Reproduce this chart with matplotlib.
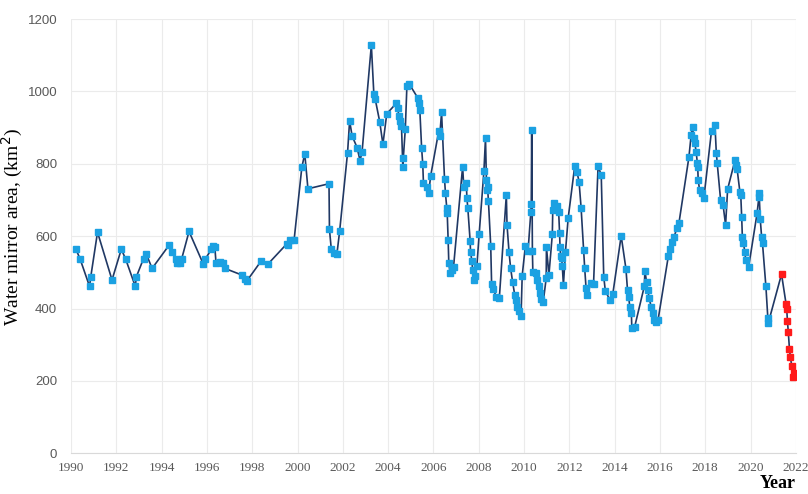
import matplotlib
matplotlib.use("Agg")
import matplotlib.pyplot as plt

blue_years = [1990.21, 1990.40, 1990.82, 1990.87, 1991.17, 1991.81, 1992.22, 1992.41, 1992.84, 1992.88,
              1993.20, 1993.32, 1993.58, 1994.34, 1994.48, 1994.62, 1994.67, 1994.81, 1994.88, 1995.21,
              1995.84, 1995.92, 1996.20, 1996.27, 1996.35, 1996.40, 1996.58, 1996.73, 1996.79, 1997.57,
              1997.66, 1997.76, 1998.39, 1998.71, 1999.53, 1999.60, 1999.69, 1999.85, 2000.19, 2000.32,
              2000.46, 2001.39, 2001.41, 2001.49, 2001.59, 2001.74, 2001.86, 2002.21, 2002.30, 2002.41,
              2002.63, 2002.76, 2002.85, 2003.26, 2003.37, 2003.43, 2003.63, 2003.77, 2003.94, 2004.37,
              2004.43, 2004.47, 2004.52, 2004.59, 2004.65, 2004.67, 2004.76, 2004.83, 2004.94, 2005.30,
              2005.35, 2005.40, 2005.48, 2005.53, 2005.56, 2005.72, 2005.79, 2005.88, 2006.24, 2006.28,
              2006.36, 2006.49, 2006.53, 2006.59, 2006.61, 2006.65, 2006.68, 2006.74, 2006.81, 2006.89,
              2007.29, 2007.34, 2007.45, 2007.48, 2007.52, 2007.62, 2007.64, 2007.70, 2007.73, 2007.77,
              2007.85, 2007.92, 2008.02, 2008.23, 2008.30, 2008.34, 2008.37, 2008.39, 2008.43, 2008.53,
              2008.57, 2008.63, 2008.78, 2008.91, 2009.22, 2009.25, 2009.34, 2009.41, 2009.50, 2009.59,
              2009.65, 2009.71, 2009.80, 2009.87, 2009.92, 2010.06, 2010.18, 2010.30, 2010.32, 2010.34,
              2010.37, 2010.39, 2010.51, 2010.58, 2010.64, 2010.70, 2010.77, 2010.85, 2010.98, 2010.99,
              2011.10, 2011.25, 2011.27, 2011.34, 2011.45, 2011.53, 2011.57, 2011.59, 2011.62, 2011.66,
              2011.69, 2011.74, 2011.83, 2011.95, 2012.24, 2012.34, 2012.43, 2012.52, 2012.63, 2012.68,
              2012.74, 2012.80, 2012.95, 2013.07, 2013.27, 2013.41, 2013.52, 2013.59, 2013.79, 2013.92,
              2014.29, 2014.50, 2014.57, 2014.62, 2014.67, 2014.74, 2014.76, 2014.88, 2015.31, 2015.34,
              2015.41, 2015.46, 2015.53, 2015.61, 2015.68, 2015.76, 2015.83, 2015.92, 2016.37, 2016.43,
              2016.54, 2016.63, 2016.75, 2016.84, 2017.28, 2017.38, 2017.44, 2017.49, 2017.54, 2017.60,
              2017.65, 2017.67, 2017.69, 2017.75, 2017.87, 2017.94, 2018.28, 2018.43, 2018.49, 2018.53,
              2018.68, 2018.79, 2018.90, 2018.99, 2019.32, 2019.37, 2019.41, 2019.53, 2019.57, 2019.61,
              2019.64, 2019.69, 2019.75, 2019.79, 2019.92, 2020.29, 2020.37, 2020.38, 2020.43, 2020.49,
              2020.53, 2020.68, 2020.77, 2020.78]
blue_area = [565, 537, 461, 487, 611, 479, 564, 537, 461, 487,
             538, 551, 511, 576, 556, 537, 525, 525, 536, 613,
             523, 536, 564, 574, 570, 527, 530, 527, 511, 492,
             481, 476, 531, 524, 579, 576, 590, 590, 790, 828,
             731, 745, 619, 565, 553, 551, 614, 831, 919, 877,
             845, 809, 833, 1128, 993, 979, 916, 854, 938, 968,
             955, 931, 917, 905, 792, 815, 897, 1016, 1020, 983,
             968, 949, 843, 799, 747, 737, 719, 767, 892, 877,
             942, 759, 720, 677, 664, 590, 525, 498, 507, 516,
             792, 737, 748, 705, 677, 588, 555, 532, 507, 479,
             490, 518, 606, 780, 871, 756, 728, 735, 696, 574,
             467, 454, 433, 429, 714, 631, 555, 511, 472, 438,
             424, 405, 394, 380, 491, 573, 560, 666, 689, 894,
             560, 502, 498, 479, 461, 444, 426, 419, 484, 571,
             493, 605, 673, 693, 683, 668, 609, 571, 544, 539,
             518, 465, 557, 650, 794, 777, 751, 679, 562, 511,
             456, 438, 470, 468, 794, 769, 488, 449, 424, 440,
             601, 510, 451, 433, 405, 389, 346, 348, 461, 505,
             474, 450, 429, 405, 387, 369, 364, 369, 544, 565,
             585, 599, 622, 636, 818, 880, 903, 871, 857, 834,
             803, 791, 756, 728, 719, 705, 892, 908, 831, 802,
             700, 686, 631, 730, 811, 797, 785, 723, 714, 654,
             599, 580, 557, 534, 516, 663, 708, 720, 647, 599,
             580, 461, 373, 359]

red_years = [2021.37, 2021.57, 2021.60, 2021.63, 2021.67, 2021.72, 2021.76, 2021.82, 2021.86, 2021.90]
red_area = [495, 413, 398, 366, 334, 288, 267, 241, 212, 221]

x_ticks = list(range(1990, 2023, 2))
y_ticks = list(range(0, 1201, 200))

fig = plt.figure(figsize=(8.08, 4.94), dpi=100)
ax = fig.add_axes([0.0879, 0.0824, 0.897, 0.879])

all_years = blue_years + red_years
all_area = blue_area + red_area
ax.plot(all_years, all_area, color="#203864", lw=1.2, zorder=2)
ax.plot(blue_years, blue_area, ls="none", marker="s", ms=5, color="#1BA1E2", mec="#1BA1E2", zorder=3)
ax.plot(red_years, red_area, ls="none", marker="s", ms=5, color="#FF1A1A", mec="#FF1A1A", zorder=3)

ax.set_xlim(1990, 2022)
ax.set_ylim(0, 1200)
ax.set_xticks(x_ticks)
ax.set_yticks(y_ticks)
ax.grid(True, color="#EBEBEB", lw=0.8)
ax.set_axisbelow(True)
for s in ["top", "right", "left"]:
    ax.spines[s].set_visible(False)
ax.spines["bottom"].set_color("#D9D9D9")
ax.tick_params(axis="x", length=0, labelsize=9.5, labelcolor="#595959", pad=6)
ax.tick_params(axis="y", length=0, labelsize=9.5, labelcolor="#595959", pad=10)
for lab in ax.get_xticklabels():
    lab.set_fontfamily("Liberation Serif")
for lab in ax.get_yticklabels():
    lab.set_fontfamily("Liberation Sans")

ax.set_ylabel("Water mirror area, (km$^2$)", fontfamily="Liberation Serif", fontsize=14)
ax.yaxis.set_label_coords(-0.064, 0.52)
fig.text(0.962, 0.004, "Year", fontfamily="Liberation Serif", fontweight="bold", fontsize=13, ha="center", va="bottom")

fig.savefig("out.png", dpi=100)
